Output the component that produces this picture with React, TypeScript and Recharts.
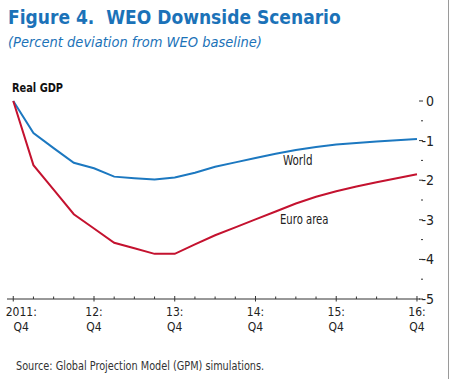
import React from "react"
import { LineChart, Line, XAxis, YAxis } from "recharts"

// quarters since 2011:Q4 (0 = 2011:Q4, 20 = 2016:Q4)
const quarters = [0, 1, 2, 3, 4, 5, 6, 7, 8, 9, 10, 11, 12, 13, 14, 15, 16, 17, 18, 19, 20]
const world = [0, -0.81, -1.19, -1.56, -1.7, -1.91, -1.95, -1.98, -1.93, -1.81, -1.66, -1.55, -1.44, -1.33, -1.24, -1.16, -1.1, -1.06, -1.02, -0.99, -0.96]
const euroArea = [0, -1.62, -2.24, -2.86, -3.22, -3.58, -3.72, -3.86, -3.86, -3.62, -3.39, -3.19, -2.99, -2.79, -2.59, -2.42, -2.28, -2.16, -2.05, -1.95, -1.85]
const yearLabels = ["2011:", "12:", "13:", "14:", "15:", "16:"]
const yTicks = [0, -0.5, -1, -1.5, -2, -2.5, -3, -3.5, -4, -4.5, -5]

const data = quarters.map((q, i) => ({ q, world: world[i], euro: euroArea[i] }))

const narrow = "'Liberation Sans Narrow', 'Arial Narrow', 'DejaVu Sans Condensed', sans-serif"
const BLUE = "#1c78c0"
const RED = "#c4122f"

function XTick(props: any) {
  const { x, y, payload } = props
  const v = payload.value
  const major = v % 4 === 0
  if (!major) {
    return <line x1={x} x2={x} y1={y - 2.5} y2={y} stroke="#333" strokeWidth={1} />
  }
  const dx = v === 0 ? 8 : 0
  return (
    <g>
      <line x1={x} x2={x} y1={y - 3} y2={y + 2.5} stroke="#333" strokeWidth={1} />
      <text x={x + dx} y={y + 17} textAnchor="middle" fontSize={12} fill="#222" fontFamily={narrow}>
        {yearLabels[v / 4]}
      </text>
      <text x={x + dx} y={y + 31.5} textAnchor="middle" fontSize={12} fill="#222" fontFamily={narrow}>
        Q4
      </text>
    </g>
  )
}

function RightTick(props: any) {
  const { x, y, payload } = props
  const v = payload.value
  const major = Number.isInteger(v)
  return (
    <g>
      <line x1={major ? x - 1 : x + 1} x2={x + 3} y1={y} y2={y} stroke="#333" strokeWidth={1} />
      {major && (
        <text x={x + 14} y={y + 5} textAnchor="end" fontSize={14} fill="#222" fontFamily={narrow}>
          {v === 0 ? "0" : `-${Math.abs(v)}`}
        </text>
      )}
    </g>
  )
}

function LeftTick(props: any) {
  const { x, y, payload } = props
  const major = Number.isInteger(payload.value)
  if (payload.value === -5) return null
  return <line x1={x} x2={x + (major ? 4 : 2.5)} y1={y} y2={y} stroke="#333" strokeWidth={1} />
}

const squeeze = (s: number): React.CSSProperties => ({ transform: `scaleX(${s})`, transformOrigin: "left center" })

export default function App() {
  return (
    <div style={{ position: "absolute", left: 0, top: 0, width: 451, height: 379, background: "#fff", overflow: "hidden" }}>
      <div style={{ position: "absolute", left: 448, top: 0, width: 1, height: 379, background: "#9a9a9a" }} />
      <div style={{ position: "absolute", left: 8, top: 6, fontFamily: narrow, fontWeight: "bold", fontSize: 19, color: "#1b72b8", whiteSpace: "nowrap" }}>
        Figure 4.&nbsp;&nbsp;WEO Downside Scenario
      </div>
      <div style={{ position: "absolute", left: 8, top: 34, fontFamily: narrow, fontStyle: "italic", fontSize: 14.5, color: "#1b72b8", whiteSpace: "nowrap" }}>
        (Percent deviation from WEO baseline)
      </div>
      <div style={{ position: "absolute", left: 12, top: 80, fontFamily: narrow, fontWeight: "bold", fontSize: 13, color: "#111", whiteSpace: "nowrap", ...squeeze(0.84) }}>
        Real GDP
      </div>
      <div style={{ position: "absolute", left: 283, top: 152, fontFamily: narrow, fontSize: 14, color: "#222", whiteSpace: "nowrap", ...squeeze(0.82) }}>
        World
      </div>
      <div style={{ position: "absolute", left: 280, top: 211, fontFamily: narrow, fontSize: 14, color: "#222", whiteSpace: "nowrap", ...squeeze(0.8) }}>
        Euro area
      </div>
      <div style={{ position: "absolute", left: 16, top: 358, fontFamily: narrow, fontSize: 13, color: "#333", whiteSpace: "nowrap", ...squeeze(0.83) }}>
        Source: Global Projection Model (GPM) simulations.
      </div>
      <div style={{ position: "absolute", left: 0, top: 0 }}>
        <LineChart width={451} height={379} data={data} margin={{ top: 101, right: 0, bottom: 50, left: 0 }}>
          <XAxis
            dataKey="q"
            type="number"
            domain={[-0.31, 20.15]}
            ticks={quarters}
            interval={0}
            height={30}
            tickSize={0}
            tickMargin={0}
            tickLine={false}
            axisLine={{ stroke: "#333", strokeWidth: 1 }}
            tick={<XTick />}
          />
          <YAxis
            yAxisId="left"
            orientation="left"
            width={7}
            domain={[-5, 0]}
            ticks={yTicks}
            interval={0}
            tickSize={0}
            tickMargin={0}
            tickLine={false}
            axisLine={false}
            tick={<LeftTick />}
          />
          <YAxis
            yAxisId="right"
            orientation="right"
            width={31}
            domain={[-5, 0]}
            ticks={yTicks}
            interval={0}
            tickSize={0}
            tickMargin={0}
            tickLine={false}
            axisLine={false}
            tick={<RightTick />}
          />
          <Line yAxisId="right" dataKey="world" type="linear" stroke={BLUE} strokeWidth={2} dot={false} isAnimationActive={false} />
          <Line yAxisId="right" dataKey="euro" type="linear" stroke={RED} strokeWidth={2} dot={false} isAnimationActive={false} />
        </LineChart>
      </div>
    </div>
  )
}
